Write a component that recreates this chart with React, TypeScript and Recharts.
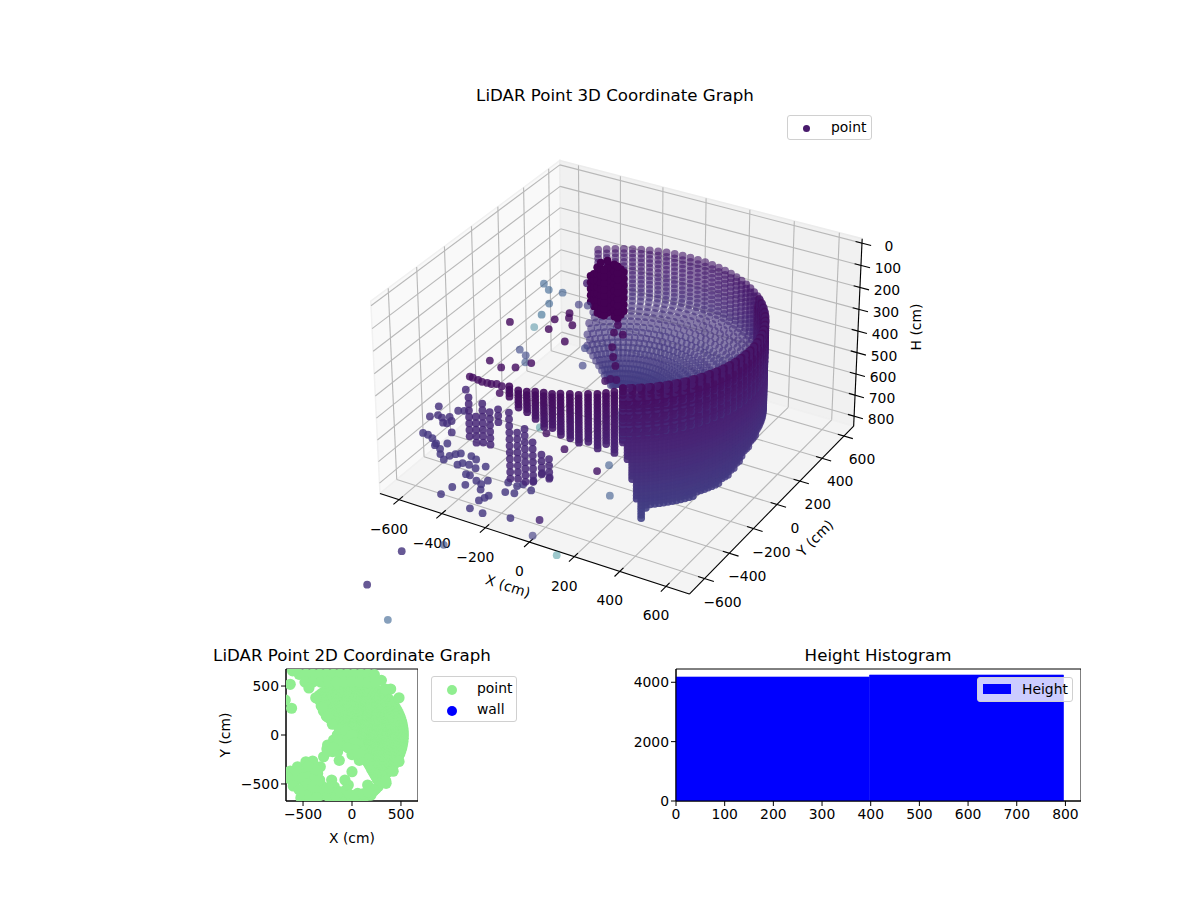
import React from 'react';
import {
  ScatterChart, Scatter, BarChart, Bar, XAxis, YAxis, ReferenceArea, Customized, Polygon,
} from 'recharts';

// wall of the silo: bearings (deg) of the laser columns, then the radius read for each row
const bowlBearings = [143.6, 140, 136.6, 133, 129.6, 126, 122.4, 118.8, 115.2, 111.6, 108, 104.4, 100.8, 97.2, 93.6, 90, 86.4, 82.8, 79.2, 75.6, 72, 68.4, 64.8, 61.2, 57.6, 54, 50.4, 46.8, 43.2, 39.6, 36, 32.4, 28.8, 25.2, 21.6, 18, 14.4, 10.8, 7.2, 3.6, 0, -3.6, -7.2, -10.8, -14.4, -18, -21.6, -25.2, -28.8, -32.4, -36, -39.6, -43.2, -46.8, -50.4, -54, -57.6, -60];
const bowlHeights = [194, 214, 234, 254, 274, 294, 314, 334, 354, 374, 394, 412, 428, 442, 454, 465, 475, 485, 494, 503, 511, 519, 527, 535, 542, 549, 556, 563, 570];
const bowlRadii = [562, 562, 562, 562, 562, 562, 562, 562, 562, 562, 562, 558, 548, 530, 510, 485, 460, 432, 405, 375, 347, 318, 288, 258, 228, 198, 170, 140, 110];

// outer face of the wall, nearest the viewer
const frontRadius = 562;
const frontBearings = [-60, -56.4, -52.8, -49.2, -45.6, -42, -38.4, -34.8, -31.2, -27.6, -24, -20.4, -16.8, -13.2, -9.6, -6, -2.4, 1.2, 4.8, 8.4, 12, 15.6, 19.2, 22.8, 26.4, 30, 33.6, 37.2, 40.8, 44.4];
const frontBottoms = [440, 600, 790, 725, 725, 725, 722, 722, 720, 718, 715, 710, 702, 690, 678, 665, 643, 633, 620, 615, 605, 600, 600, 600, 600, 600, 600, 600, 600, 600];
const frontMidBearings = [-58.2, -54.6, -51, -47.4, -43.8, -40.2, -36.6, -33, -29.4, -25.8, -22.2, -18.6, -15, -11.4, -7.8, -4.2, -0.6, 3, 6.6, 10.2, 13.8, 17.4, 21, 24.6, 28.2, 31.8, 35.4, 39, 42.6, 46.2];
const frontMidBottoms = [520, 690, 735, 725, 725, 722, 722, 720, 718, 716, 712, 705, 695, 684, 670, 654, 638, 626, 618, 610, 602, 600, 600, 600, 600, 600, 600, 600, 600, 600];
const frontHeights = [194, 209, 224, 239, 254, 269, 284, 299, 314, 329, 344, 359, 374, 389, 404, 419, 434, 449, 464, 479, 494, 509, 524, 539, 554, 569, 584, 599, 614, 629, 644, 659, 674, 689, 704, 719, 734, 749, 764, 779, 794];

// flat run of short columns at the front left
const rowX = [-94, -49, -17, 10, 42, 73, 100, 131, 163, 190, 220, 244, 267];
const rowY = [-692, -701, -692, -676, -667, -658, -642, -625, -615, -591, -573, -550, -527];
const rowBottoms = [241, 269, 287, 315, 344, 358, 381, 390, 404, 418, 442, 432, 465];

// free standing stacks of points
const stackRows = [130, 160, 190, 220, 250, 280, 310, 340, 370, 400, 430, 460, 490, 520, 550, 580, 610, 640, 670, 700];
const stackX = [-483, -434, -411, -378, -442, -178, -152, -115, -89, -89, -47];
const stackY = [-377, -404, -390, -389, -226, -565, -550, -555, -540, -476, -489];
const stackTops = [504, 560, 499, 536, 616, 378, 471, 457, 499, 593, 588];
const stackBottoms = [700, 700, 700, 700, 700, 700, 700, 700, 700, 700, 700];

// dense dark blob near the back
const blobX = [-352, -321, -281, -261, -246, -245, -241, -206, -186, -191, -196];
const blobY = [360, 333, 292, 286, 286, 313, 334, 300, 292, 326, 359];
const blobTops = [269, 227, 166, 157, 180, 157, 176, 157, 138, 176, 213];

// single points
const looseX = [-261, -247, -221, -200, -179, -161, -144, -119, -445, -158, -141, -102, -89, -46, -3, 31, 21, 55,
  -565, -541, -512, -478, -443, -475, -421, -440, -388, -383, -370, -355,
  -481, -470, -468, -438, -441, -377, -405, -414, -396, -353, -323, -314, -304, -253, -259, -268, -410, -420, -374, -268, -207, -96, 8, 42, -211, -176, -238, -130, -180, -194, -159, -159, -117, 21, 40, 155,
  -610, -588, -564, -541, -539, -523, -517, -470, -622, -537, -516, -599,
  -359, -293, -245, -260, -210, -233, -303, -28, -89, -184, -290, -310, -453, -348, -375, -396, -396, -501, -457, -285, -267, -225, -289, -254,
  -191, -146, -24, -195, -331, -217, -318, -125, 190];
const looseY = [-705, -706, -710, -715, -712, -711, -701, -705, 489, 245, 183, 186, 77, 10, -47, -146, -170, -141,
  -585, -587, -600, -626, -652, -639, -684, -604, -711, -677, -655, -640,
  -475, -454, -392, -404, -452, -430, -461, -518, -517, -538, -550, -515, -585, -607, -628, -655, -625, -691, -586, -721, -726, -701, -656, -764, -552, -541, -486, -490, -468, -491, -425, -359, -371, -236, -174, -368,
  -466, -441, -449, -429, -480, -476, -452, -525, -382, -372, -360, -217,
  -408, -431, -403, -302, -343, -350, -276, -259, -137, -131, -77, 3, -105, -92, 10, 104, 210, 238, 203, 77, 42, -3, 157, 168,
  -318, -343, -410, -601, -1106, -989, -1360, -1512, -833];
const looseH = [194, 194, 194, 194, 194, 194, 194, 194, 400, 400, 400, 400, 400, 400, 400, 400, 400, 400,
  600, 600, 600, 600, 600, 600, 600, 600, 600, 600, 600, 600,
  780, 780, 780, 780, 780, 780, 780, 780, 780, 780, 780, 780, 780, 780, 780, 780, 780, 780, 780, 780, 780, 780, 780, 780, 780, 780, 780, 780, 780, 780, 780, 780, 780, 780, 780, 780,
  600, 600, 600, 600, 600, 600, 600, 600, 600, 600, 600, 600,
  300, 300, 300, 300, 300, 300, 300, 300, 300, 300, 300, 300, 300, 300, 300, 300, 300, 300, 300, 300, 300, 300, 300, 300,
  600, 600, 600, 300, 780, 780, 780, 780, 780];
const looseTone = [0.04, 0.04, 0.04, 0.04, 0.04, 0.04, 0.04, 0.04, 0.1, 0.02, 0.02, 0.02, 0.03, 0.03, 0.03, 0.05, 0.05, 0.05,
  0.16, 0.16, 0.16, 0.16, 0.16, 0.16, 0.16, 0.16, 0.16, 0.16, 0.16, 0.16,
  0.16, 0.16, 0.16, 0.16, 0.16, 0.16, 0.16, 0.16, 0.16, 0.16, 0.16, 0.16, 0.16, 0.16, 0.16, 0.16, 0.16, 0.16, 0.16, 0.16, 0.16, 0.16, 0.1, 0.18, 0.16, 0.16, 0.16, 0.16, 0.16, 0.16, 0.16, 0.12, 0.12, 0.06, 0.27, 0.27,
  0.14, 0.14, 0.14, 0.14, 0.14, 0.14, 0.14, 0.14, 0.14, 0.14, 0.14, 0.12,
  0.04, 0.04, 0.04, 0.22, 0.04, 0.25, 0.22, 0.2, 0.2, 0.03, 0.03, 0.03, 0.03, 0.4, 0.33, 0.3, 0.28, 0.3, 0.3, 0.03, 0.03, 0.03, 0.18, 0.18,
  0.45, 0.05, 0.05, 0.04, 0.15, 0.24, 0.15, 0.3, 0.45];

// extra plan view points
const planX = [-607, -631, -617, -682, -130, 75, -290, -256, -324, 0, -208, -72, -38, -181, 160, -556, -471, -402, -631, -641, -590, -522, -436, -505, -351, -385, -488, -317, -556, -419, -317, -215, -78, 58, 228, 348, -198, -147, -249, -488, -385, -215, -10, 194, -188, -249,
  -540, -470, -400, -330, -260, -190, -120, -50, 20, 90, 160, 228, 300, 395, 480, -480, -400, -320, -240, -160, -80, 0, 80, 160, 240, 340,
  -150, -100, -60, -130, -60, -40, 0, 30, -100, -150, -40, 30, 0, 60, -190,
  -600, -560, -500, -440, -380, -450, -400, -340, -290, -250, -160, -120, -60, -20, 30, 110, 160, -600, -540, -480, -430, -360, -250, -330, -380, -450,
  -440, -370, -300, -250, -200, 345, 420, 480];
const planY = [655, 518, 273, 358, -259, -259, -222, -143, -324, -375, -460, -460, -511, -529, -511, -324, -273, -266, -368, -443, -511, -641, -358, -392, -392, -477, -477, -511, -443, -580, -614, -580, -614, -597, -563, -494, -170, -170, -170, -563, -665, -665, -665, -614, -51, -102,
  620, 620, 620, 620, 620, 620, 620, 620, 620, 620, 620, 616, 558, 470, 380, 540, 540, 540, 540, 540, 540, 540, 540, 540, 540, 470,
  0, -30, -80, 60, 40, -40, 0, -80, -110, -100, -130, -150, -200, -190, -130,
  -450, -380, -440, -430, -430, -500, -530, -560, -560, -620, -620, -580, -560, -610, -620, -600, -580, -520, -560, -620, -640, -640, -540, -460, -350, -320,
  480, 380, 280, 190, 110, -470, -370, -270];

const histCenters = [198, 597];
const histCounts = [4178, 4245];

const xTicks3d = [-600, -400, -200, 0, 200, 400, 600];
const yTicks3d = [-600, -400, -200, 0, 200, 400, 600];
const hTicks3d = [0, 100, 200, 300, 400, 500, 600, 700, 800];

const FONT = '"DejaVu Sans", sans-serif';
const X_LIM = [-690, 700];
const Y_LIM = [-720, 690];
const H_LIM = [-20, 848];
const BOX_XY = 1.1905;
const BOX_H = 0.735;
const PLAN_SCALE = 0.94; // the plan panel reads the wall slightly tighter than the 3D view

const minus = (v: number) => String(v).replace('-', '\u2212');

// same camera as the source plot: elev 30, azim -60, dist 10
function project(x: number, y: number, h: number) {
  const bx = ((x - X_LIM[0]) / (X_LIM[1] - X_LIM[0]) - 0.5) * BOX_XY;
  const by = ((y - Y_LIM[0]) / (Y_LIM[1] - Y_LIM[0]) - 0.5) * BOX_XY;
  const bz = ((H_LIM[1] - h) / (H_LIM[1] - H_LIM[0]) - 0.5) * BOX_H;
  const u = 0.866025 * bx + 0.5 * by;
  const v = -0.25 * bx + 0.433013 * by + 0.866025 * bz;
  const w = 0.433013 * bx - 0.75 * by + 0.5 * bz;
  const s = 1 / (10 - w);
  return { vx: 621.2 + 2965 * u * s, vy: 366 - 2982 * v * s, depth: w };
}

const VIRIDIS = [[68, 1, 84], [72, 36, 117], [65, 68, 135], [53, 95, 141], [42, 120, 142], [33, 145, 140], [34, 168, 132]];
function toneColor(t: number) {
  const p = Math.min(t * 10, VIRIDIS.length - 1.001);
  const i = Math.floor(p);
  const c = VIRIDIS[i].map((a, k) => Math.round(a + (VIRIDIS[i + 1][k] - a) * (p - i)));
  return `rgb(${c[0]},${c[1]},${c[2]})`;
}

function mark(x: number, y: number, h: number, tone: number, alpha?: number) {
  const p = project(x, y, h);
  const shade = Math.max(0.62, Math.min(0.9, 0.74 + p.depth * 0.6));
  return { ...p, fill: toneColor(tone), alpha: alpha ?? shade };
}

const wallTone = (h: number) => 0.03 + (0.17 * (h - 194)) / 600;
const rad = (deg: number) => (deg * Math.PI) / 180;

const points3d: ReturnType<typeof mark>[] = [];
const planWall: { x: number; y: number }[] = [];

bowlBearings.forEach((b, col) => {
  bowlHeights.forEach((h, i) => {
    // the four outermost bearings only exist in the lower rows
    if (col < 4 && i < 14 + (3 - col) * 2) return;
    const x = bowlRadii[i] * Math.cos(rad(b));
    const y = bowlRadii[i] * Math.sin(rad(b));
    points3d.push(mark(x, y, h, wallTone(h) + 0.04));
    if (i > 10) planWall.push({ x: x * PLAN_SCALE, y: y * PLAN_SCALE });
  });
});
[frontBearings, frontMidBearings].forEach((bearings, layer) => {
  const bottoms = layer === 0 ? frontBottoms : frontMidBottoms;
  bearings.forEach((b, col) => {
    frontHeights.filter((h) => h <= bottoms[col] && (layer === 0 || h > 230)).forEach((h) => {
      points3d.push(mark(frontRadius * Math.cos(rad(b)), frontRadius * Math.sin(rad(b)), h, wallTone(h)));
    });
  });
});
rowX.forEach((x, col) => {
  frontHeights.filter((h) => h <= rowBottoms[col]).forEach((h) => {
    points3d.push(mark(x, rowY[col], h, wallTone(h)));
  });
  planWall.push({ x, y: rowY[col] });
});
stackX.forEach((x, col) => {
  stackRows.filter((h) => h >= stackTops[col] && h <= stackBottoms[col]).forEach((h) => {
    points3d.push(mark(x, stackY[col], h, 0.11, 0.85));
  });
});
blobX.forEach((x, col) => {
  stackRows.filter((h) => h >= blobTops[col] && h <= 400).forEach((h) => {
    points3d.push(mark(x, blobY[col], h, 0, 1));
  });
});
looseX.forEach((x, i) => {
  const tone = looseTone[i];
  const alpha = tone >= 0.4 ? 0.45 : tone >= 0.25 ? 0.6 : tone >= 0.18 ? 0.65 : 0.82;
  points3d.push(mark(x, looseY[i], looseH[i], tone, alpha));
});
points3d.sort((a, b) => a.depth - b.depth);

const planPoints = [...planWall, ...planX.map((x, i) => ({ x, y: planY[i] }))];
const histData = histCenters.map((c, i) => ({ center: c, count: histCounts[i] }));

const seg = (a: { vx: number; vy: number }, b: { vx: number; vy: number }, stroke: string, width: number, key: string) => (
  <line key={key} x1={a.vx} y1={a.vy} x2={b.vx} y2={b.vy} stroke={stroke} strokeWidth={width} />
);
const poly = (pts: { vx: number; vy: number }[]) => pts.map((p) => ({ x: p.vx, y: p.vy }));

const Box3d = () => {
  const [x0, x1] = X_LIM;
  const [y0, y1] = Y_LIM;
  const [hTop, hBot] = H_LIM;
  const grid = '#b8b8b8';
  const parts: React.ReactNode[] = [];
  xTicks3d.forEach((t) => {
    parts.push(seg(project(t, y0, hBot), project(t, y1, hBot), grid, 1.1, `gx${t}`));
    parts.push(seg(project(t, y1, hBot), project(t, y1, hTop), grid, 1.1, `gxb${t}`));
  });
  yTicks3d.forEach((t) => {
    parts.push(seg(project(x0, t, hTop), project(x0, t, hBot), grid, 1.1, `gy${t}`));
    parts.push(seg(project(x0, t, hBot), project(x1, t, hBot), grid, 1.1, `gyb${t}`));
  });
  hTicks3d.forEach((t) => {
    parts.push(seg(project(x0, y0, t), project(x0, y1, t), grid, 1.1, `gz${t}`));
    parts.push(seg(project(x0, y1, t), project(x1, y1, t), grid, 1.1, `gzb${t}`));
  });
  return (
    <g>
      <Polygon points={poly([project(x0, y0, hTop), project(x0, y1, hTop), project(x0, y1, hBot), project(x0, y0, hBot)])} fill="#f9f9f9" stroke="#f1f1f1" strokeWidth={1.5} />
      <Polygon points={poly([project(x0, y1, hTop), project(x1, y1, hTop), project(x1, y1, hBot), project(x0, y1, hBot)])} fill="#f1f1f1" stroke="#ececec" strokeWidth={1.5} />
      <Polygon points={poly([project(x0, y0, hBot), project(x1, y0, hBot), project(x1, y1, hBot), project(x0, y1, hBot)])} fill="#f4f4f4" stroke="#f0f0f0" strokeWidth={1.5} />
      {parts}
      {seg(project(x0, y0, hBot), project(x1, y0, hBot), '#000', 1.1, 'ax')}
      {seg(project(x1, y0, hBot), project(x1, y1, hBot), '#000', 1.1, 'ay')}
      {seg(project(x1, y1, hTop), project(x1, y1, hBot), '#000', 1.1, 'az')}
      {xTicks3d.map((t) => seg(project(t, y0 + 28, hBot), project(t, y0 - 40, hBot), '#000', 1.1, `tx${t}`))}
      {yTicks3d.map((t) => seg(project(x1 - 28, t, hBot), project(x1 + 40, t, hBot), '#000', 1.1, `ty${t}`))}
      {hTicks3d.map((t) => seg(project(x1 - 28, y1, t), project(x1 + 40, y1, t), '#000', 1.1, `tz${t}`))}
      <g fontFamily={FONT} fontSize={13.9} fill="#000" textAnchor="middle">
        {xTicks3d.map((t) => {
          const p = project(t, y0, hBot);
          return <text key={t} x={p.vx - 10} y={p.vy + 34}>{minus(t)}</text>;
        })}
        {yTicks3d.map((t) => {
          const p = project(x1, t, hBot);
          return <text key={t} x={p.vx + 18} y={p.vy + 28}>{minus(t)}</text>;
        })}
        {hTicks3d.map((t) => {
          const p = project(x1, y1, t);
          return <text key={t} x={p.vx + 27} y={p.vy + 8}>{t}</text>;
        })}
        <text transform="translate(508,586) rotate(18)" dy={5}>X (cm)</text>
        <text transform="translate(815,538) rotate(-45)" dy={5}>Y (cm)</text>
        <text transform="translate(916,327) rotate(-90)" dy={5}>H (cm)</text>
      </g>
    </g>
  );
};

const Dot3d = (props: any) => (
  <circle cx={props.cx} cy={props.cy} r={3.9} fill={props.payload.fill} fillOpacity={props.payload.alpha} />
);
const PlanDot = (props: any) => <circle cx={props.cx} cy={props.cy} r={5.6} fill="#90ee90" />;

const Title = ({ x, y, children }: { x: number; y: number; children: string }) => (
  <div style={{ position: 'absolute', left: x - 200, top: y - 12, width: 400, textAlign: 'center', font: `16.67px ${FONT}`, lineHeight: '24px', color: '#000' }}>
    {children}
  </div>
);

const legendBox: React.CSSProperties = {
  position: 'absolute', boxSizing: 'border-box', background: 'rgba(255,255,255,0.8)', border: '1px solid #d0d0d0',
  borderRadius: 3, font: `13.9px ${FONT}`, color: '#000',
};
const legendText = (left: number, top: number): React.CSSProperties => ({ position: 'absolute', left, top, lineHeight: '16px' });
const legendDot = (cx: number, cy: number, r: number, background: string): React.CSSProperties => ({
  position: 'absolute', left: cx - r, top: cy - r, width: r * 2, height: r * 2, borderRadius: '50%', background,
});

export default function App() {
  const tick = { fontSize: 13.9, fontFamily: FONT, fill: '#000' };
  return (
    <div style={{ position: 'absolute', left: 0, top: 0, width: 1200, height: 900, background: '#fff', overflow: 'hidden' }}>
      <ScatterChart width={1200} height={900} margin={{ top: 0, right: 0, bottom: 0, left: 0 }} style={{ position: 'absolute', left: 0, top: 0 }}>
        <XAxis type="number" dataKey="vx" domain={[0, 1200]} hide />
        <YAxis type="number" dataKey="vy" domain={[0, 900]} reversed hide />
        <Customized component={Box3d} />
        <Scatter name="point" data={points3d} shape={Dot3d} isAnimationActive={false} />
      </ScatterChart>
      <Title x={615} y={96}>LiDAR Point 3D Coordinate Graph</Title>
      <div style={{ ...legendBox, left: 787, top: 115, width: 85, height: 25 }}>
        <span style={legendDot(18.5, 12.5, 3.6, '#481a6c')} />
        <span style={legendText(43, 3)}>point</span>
      </div>

      <ScatterChart width={218} height={185} margin={{ top: 9, right: 0, bottom: 0, left: 0 }} style={{ position: 'absolute', left: 200, top: 660 }}>
        <XAxis type="number" dataKey="x" domain={[-674, 674]} allowDataOverflow ticks={[-500, 0, 500]} tickFormatter={minus} tick={tick} tickSize={5} tickMargin={3} stroke="#000" height={44}
          label={{ value: 'X (cm)', position: 'insideBottom', offset: 2, fontSize: 13.9, fontFamily: FONT, fill: '#000' }} />
        <YAxis type="number" dataKey="y" domain={[-674, 674]} allowDataOverflow ticks={[-500, 0, 500]} tickFormatter={minus} tick={tick} tickSize={5} stroke="#000" width={86}
          label={{ value: 'Y (cm)', angle: -90, position: 'insideLeft', offset: 25, fontSize: 13.9, fontFamily: FONT, fill: '#000', style: { textAnchor: 'middle' } }} />
        <Scatter name="point" data={planPoints} shape={PlanDot} isAnimationActive={false} />
        <Scatter name="wall" data={[]} fill="#0000ff" isAnimationActive={false} />
        <ReferenceArea x1={-674} x2={674} y1={-674} y2={674} fill="none" stroke="#000" strokeWidth={1} ifOverflow="visible" />
      </ScatterChart>
      <Title x={352} y={656}>LiDAR Point 2D Coordinate Graph</Title>
      <div style={{ ...legendBox, left: 431, top: 676, width: 86, height: 46 }}>
        <span style={legendDot(20, 13, 5, '#90ee90')} />
        <span style={legendDot(20, 34, 5, '#0000ff')} />
        <span style={legendText(45, 3)}>point</span>
        <span style={legendText(45, 24)}>wall</span>
      </div>

      <BarChart width={471} height={185} data={histData} barCategoryGap={0} margin={{ top: 9, right: 0, bottom: 0, left: 0 }} style={{ position: 'absolute', left: 610, top: 660 }}>
        <XAxis type="number" dataKey="center" domain={[0, 832]} allowDataOverflow ticks={[0, 100, 200, 300, 400, 500, 600, 700, 800]} tick={tick} tickSize={5} tickMargin={3} stroke="#000" height={44} />
        <YAxis type="number" domain={[0, 4447]} allowDataOverflow ticks={[0, 2000, 4000]} tick={tick} tickSize={5} stroke="#000" width={66} />
        <Bar dataKey="count" name="Height" fill="#0000ff" stroke="#0000ff" strokeWidth={0.6} isAnimationActive={false} />
        <ReferenceArea x1={0} x2={832} y1={0} y2={4447} fill="none" stroke="#000" strokeWidth={1} ifOverflow="visible" />
      </BarChart>
      <Title x={878} y={656}>Height Histogram</Title>
      <div style={{ ...legendBox, left: 977, top: 677, width: 96, height: 25 }}>
        <span style={{ position: 'absolute', left: 5, top: 6, width: 28, height: 10, background: '#0000ff' }} />
        <span style={legendText(44, 3)}>Height</span>
      </div>
    </div>
  );
}
